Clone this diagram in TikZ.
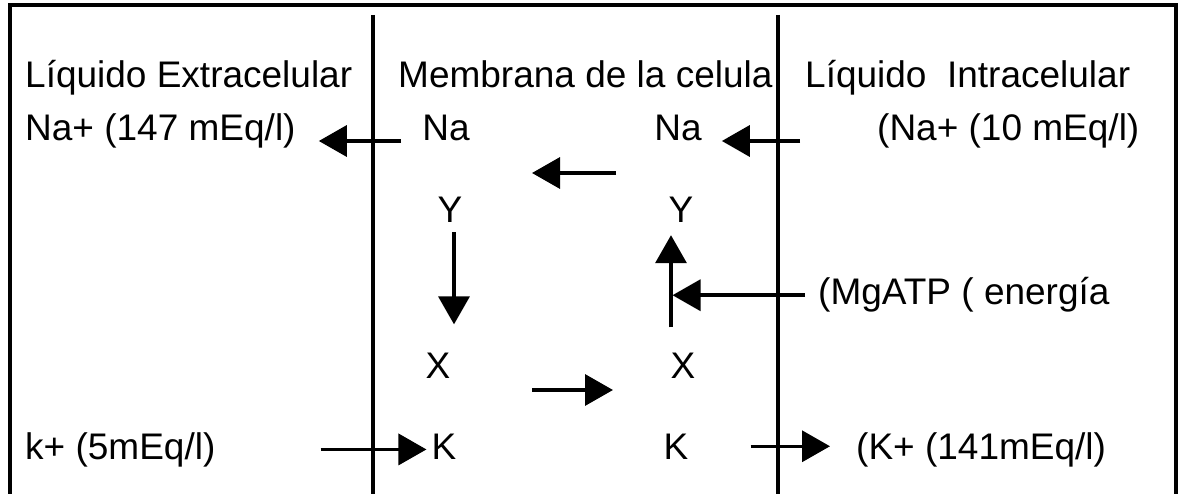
\documentclass[tikz,border=0pt]{standalone}
\usepackage{fontspec}
\setmainfont{Liberation Sans}
\usetikzlibrary{arrows.meta}

\begin{document}
\begin{tikzpicture}[x=1pt, y=-1pt,
  txt/.style={inner sep=0pt, anchor=base west, font=\fontsize{37}{44}\selectfont},
  ion/.style={txt, anchor=base},
  wall/.style={line width=3.5pt},
  arr/.style={-{Triangle[length=28pt, width=31pt]}, line width=3.5pt}]
  \path[use as bounding box, fill=white] (0,0) rectangle (1178,494);
  % frame and membrane walls
  \draw[line width=4pt] (10,494) |- (1176,5) -- (1176,494);
  \draw[wall] (373,15) -- (373,494);
  \draw[wall] (778,15) -- (778,494);
  % headings
  \node[txt] (ext) at (25,88) {Líquido Extracelular};
  \node[txt] (mem) at (398,88) {Membrana de la celula};
  \node[txt] (int) at (805,88) {Líquido\ \ Intracelular};
  % sodium row
  \node[txt] (naext) at (25,141) {Na+ (147 mEq/l)};
  \node[ion] (nao) at (446,141) {Na};
  \node[ion] (nai) at (678,141) {Na};
  \node[txt] (naint) at (877,141) {(Na+ (10 mEq/l)};
  % carrier forms
  \node[ion] (yo) at (450,223) {Y};
  \node[ion] (yi) at (681,223) {Y};
  \node[ion] (xo) at (438,378) {X};
  \node[ion] (xi) at (683,378) {X};
  \node[txt] (atp) at (818,305) {(MgATP ( energía};
  % potassium row
  \node[txt] (kext) at (25,459) {k+ (5mEq/l)};
  \node[ion] (ko) at (444,459) {K};
  \node[ion] (ki) at (676,459) {K};
  \node[txt] (kint) at (856,459) {(K+ (141mEq/l)};
  \coordinate (pump) at ([xshift=-12pt]xi.north);
  \coordinate (nab) at (616,173);
  \coordinate (naa) at (532,173);
  \coordinate (kb) at (532,390);
  \coordinate (ka) at (613,390);

  \draw[arr, shorten <=21pt, shorten >=23pt] (nao.base west) -- (naext.base east);
  \draw[arr, shorten <=77pt, shorten >=20pt] (naint.base west) -- (nai.base east);
  \draw[arr] (nab) -- (naa);
  \draw[arr, shorten <=9pt, shorten >=28pt] ([xshift=4pt]yo.south) -- ([xshift=4pt]yo.south |- xo.north);
  \draw[arr, shorten <=25pt, shorten >=12pt] (pump) -- (pump |- yi.south);
  \draw[arr, shorten <=13pt, shorten >=1.5pt] (atp.west) -- (atp.west -| pump);
  \draw[arr] (kb) -- (ka);
  \draw[arr, shorten <=105pt, shorten >=5pt] (kext.east) -- (kext.east -| ko.west);
  \draw[arr, shorten <=62pt, shorten >=26pt] (ki.east) -- (ki.east -| kint.west);
\end{tikzpicture}
\end{document}
